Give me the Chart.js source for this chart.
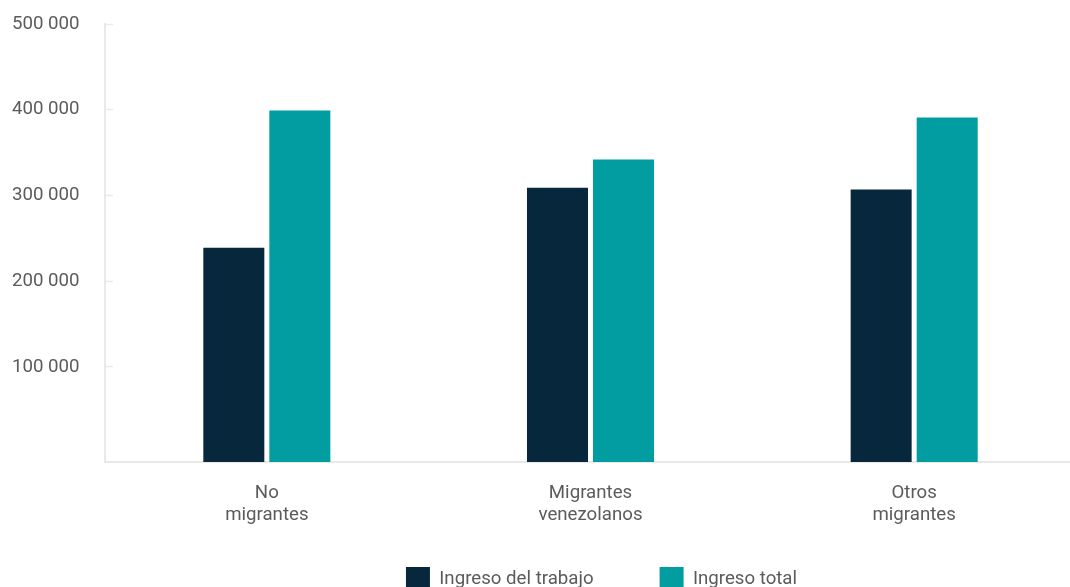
<!DOCTYPE html>
<html lang="es">
<head>
<meta charset="utf-8">
<title>Ingreso por condición migratoria</title>
<script src="https://cdn.jsdelivr.net/npm/chart.js@4.4.1/dist/chart.umd.min.js"></script>
<style>
  html, body { margin: 0; padding: 0; background: #ffffff; overflow: hidden; }
  #wrap { position: relative; width: 1076px; height: 632px; }
</style>
</head>
<body>
<div id="wrap"><canvas id="chart"></canvas></div>
<script>
// Categories (two-line labels) and series
const categories = [
  ['No', 'migrantes'],
  ['Migrantes', 'venezolanos'],
  ['Otros', 'migrantes']
];
const seriesNames = ['Ingreso del trabajo', 'Ingreso total'];
const ingresoTrabajo = [239000, 309000, 307000];
const ingresoTotal = [399000, 342000, 391000];

// Value-axis ticks
const yTickValues = [100000, 200000, 300000, 400000, 500000];
const yTickLabels = ['100 000', '200 000', '300 000', '400 000', '500 000'];

const AXIS_MIN = -11000;
const AXIS_MAX = 500000;
const TEXT = '#5b5b5b';
const AXIS_GRAY = '#e9e9e9';

Chart.defaults.font.family = 'Roboto, "Noto Sans", sans-serif';
Chart.defaults.font.size = 18.67;
Chart.defaults.color = TEXT;

// Moves the legend row after layout (sideways and up)
const legendShift = {
  id: 'legendShift',
  afterLayout(chart, args, opts) {
    const lg = chart.legend;
    if (!lg) return;
    lg.left += opts.dx;
    lg.right += opts.dx;
    lg.top += opts.dy;
    lg.bottom += opts.dy;
  }
};

new Chart(document.getElementById('chart'), {
  type: 'bar',
  data: {
    labels: categories,
    datasets: [
      {
        label: seriesNames[0],
        data: ingresoTrabajo,
        backgroundColor: '#07283c',
        borderWidth: 0,
        base: AXIS_MIN
      },
      {
        label: seriesNames[1],
        data: ingresoTotal,
        backgroundColor: '#019da1',
        borderWidth: 0,
        base: AXIS_MIN
      }
    ]
  },
  options: {
    responsive: true,
    maintainAspectRatio: false,
    animation: false,
    events: [],
    datasets: {
      bar: { categoryPercentage: 0.408, barPercentage: 0.924 }
    },
    layout: { padding: { top: 24, right: 0, left: 12, bottom: 0 } },
    scales: {
      x: {
        grid: { display: false, drawTicks: false },
        border: { display: true, color: AXIS_GRAY, width: 2 },
        ticks: {
          padding: 20,
          maxRotation: 0,
          font: { lineHeight: 1.2 }
        },
        afterFit(scale) { scale.height = 70; }
      },
      y: {
        min: AXIS_MIN,
        max: AXIS_MAX,
        grid: {
          drawOnChartArea: false,
          drawTicks: true,
          tickLength: -8,
          color: AXIS_GRAY,
          tickWidth: 1.5
        },
        border: { display: true, color: AXIS_GRAY, width: 2 },
        ticks: {
          padding: 0,
          crossAlign: 'far',
          callback(value, index) { return yTickLabels[index]; }
        },
        afterBuildTicks(scale) {
          scale.ticks = yTickValues.map(v => ({ value: v }));
        },
        afterFit(scale) { scale.width = 93; }
      }
    },
    plugins: {
      legend: {
        position: 'bottom',
        fullSize: false,
        labels: {
          boxWidth: 24,
          boxHeight: 24,
          padding: 66,
          color: TEXT
        }
      },
      legendShift: { dx: 11, dy: -31 },
      tooltip: { enabled: false }
    }
  },
  plugins: [legendShift]
});
</script>
</body>
</html>
